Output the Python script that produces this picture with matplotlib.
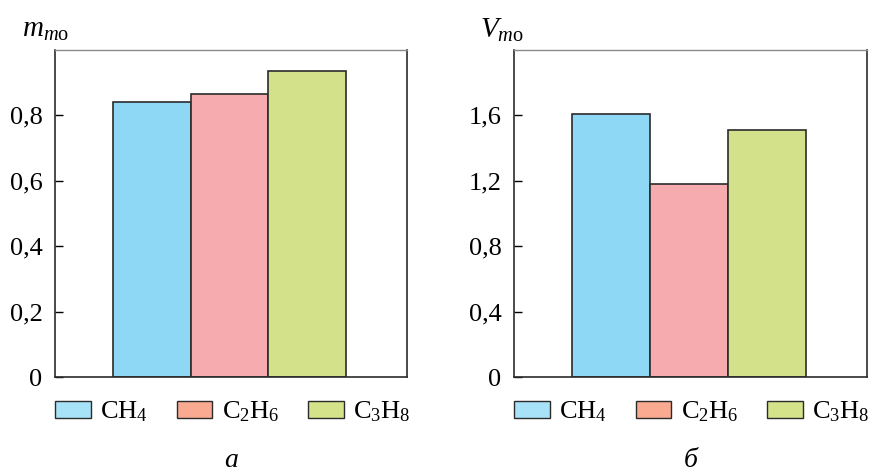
"""Bar charts of m_mo and V_mo for CH4, C2H6, C3H8."""

import matplotlib
matplotlib.use("Agg")
import matplotlib.pyplot as plt
from matplotlib.patches import Patch
from matplotlib.ticker import FuncFormatter

plt.rcParams["font.family"] = "serif"
plt.rcParams["font.serif"] = ["Liberation Serif"]
plt.rcParams["mathtext.fontset"] = "custom"
plt.rcParams["mathtext.rm"] = "Liberation Serif"
plt.rcParams["mathtext.it"] = "Liberation Serif:italic"

gases = [r"CH$_4$", r"C$_2$H$_6$", r"C$_3$H$_8$"]
m_values = [0.84, 0.864, 0.937]
v_values = [1.608, 1.179, 1.51]
m_ticks = [0, 0.2, 0.4, 0.6, 0.8]
v_ticks = [0, 0.4, 0.8, 1.2, 1.6]

bar_colors = ["#8ED8F6", "#F6ABAE", "#D3E28A"]
legend_colors = ["#A8E2F8", "#F9AA90", "#D4E38A"]


def comma(x, pos):
    if x == 0:
        return "0"
    return f"{x:.1f}".replace(".", ",")


def draw_panel(ax, values, ticks, ymax, ylabel, panel):
    ax.bar(range(len(values)), values, width=1.0, color=bar_colors,
           edgecolor="#2b2b2b", linewidth=1.2)
    ax.set_xlim(-1.25, 3.29)
    ax.set_ylim(0, ymax)
    ax.set_xticks([])
    ax.set_yticks(ticks)
    ax.yaxis.set_major_formatter(FuncFormatter(comma))
    ax.tick_params(axis="y", direction="in", length=6, width=1,
                   labelsize=19, pad=9)
    for side in ("left", "bottom", "right"):
        ax.spines[side].set_color("#2b2b2b")
        ax.spines[side].set_linewidth(1.2)
    ax.spines["top"].set_color("#8a8a8a")
    ax.spines["top"].set_linewidth(1.0)

    ax.text(-0.095, 1.06, ylabel, transform=ax.transAxes, fontsize=21,
            ha="left", va="center")

    handles = [Patch(facecolor=c, edgecolor="#2b2b2b", linewidth=1.0)
               for c in legend_colors]
    ax.legend(handles, gases, loc="center left", bbox_to_anchor=(0, -0.107),
              ncol=3, frameon=False, fontsize=19, borderpad=0,
              borderaxespad=0, handlelength=1.35, handleheight=0.65,
              handletextpad=0.35, columnspacing=1.1)

    ax.text(0.5, -0.255, panel, transform=ax.transAxes, fontsize=20,
            style="italic", ha="center", va="center")


fig = plt.figure(figsize=(8.7, 4.74), dpi=100)
ax1 = fig.add_axes([55 / 870, 1 - 377 / 474, 352 / 870, 327 / 474])
ax2 = fig.add_axes([514 / 870, 1 - 377 / 474, 353 / 870, 327 / 474])

draw_panel(ax1, m_values, m_ticks, 1.0, r"$m_{m\mathrm{o}}$", "а")
draw_panel(ax2, v_values, v_ticks, 2.0, r"$V_{m\mathrm{o}}$", "б")

fig.savefig("out.png", dpi=100)
